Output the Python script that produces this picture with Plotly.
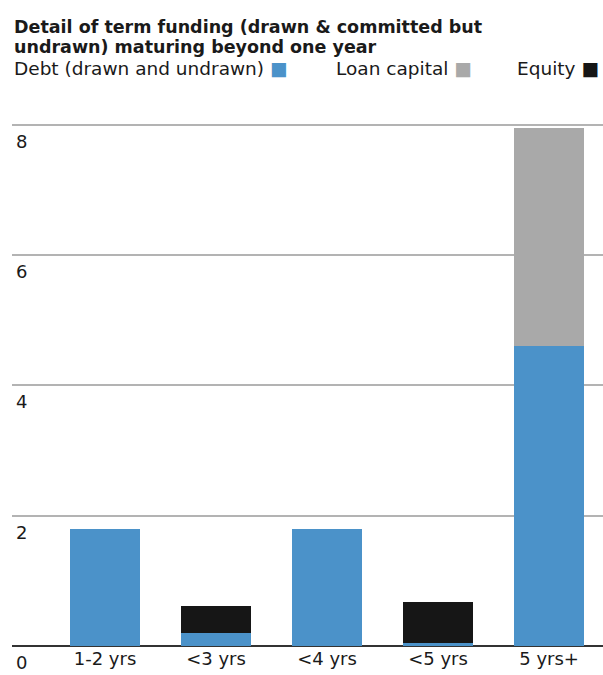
import plotly.graph_objects as go

categories = ["1-2 yrs", "<3 yrs", "<4 yrs", "<5 yrs", "5 yrs+"]
debt = [1.8, 0.2, 1.8, 0.05, 4.6]
loan_capital = [0, 0, 0, 0, 3.35]
equity = [0, 0.42, 0, 0.63, 0]
y_ticks = [0, 2, 4, 6, 8]

BLUE = "#4b92c9"
GREY = "#a9a9a9"
BLACK = "#161616"
TEXT = "#1a1a1a"
FONT = "DejaVu Sans, Liberation Sans, Arial, sans-serif"

x = list(range(len(categories)))

fig = go.Figure()
fig.add_trace(go.Bar(x=x, y=debt, marker_color=BLUE, name="Debt (drawn and undrawn)", width=0.63, marker_line_width=0))
fig.add_trace(go.Bar(x=x, y=loan_capital, marker_color=GREY, name="Loan capital", width=0.63, marker_line_width=0))
fig.add_trace(go.Bar(x=x, y=equity, marker_color=BLACK, name="Equity", width=0.63, marker_line_width=0))

annotations = []
for v in y_ticks:
    annotations.append(dict(x=0.004, xref="paper", y=v, yref="y", text=str(v), showarrow=False,
                            xanchor="left", yanchor="top", yshift=-4,
                            font=dict(family=FONT, size=18, color=TEXT)))

title_lines = ["Detail of term funding (drawn &amp; committed but",
               "undrawn) maturing beyond one year"]
for i, line in enumerate(title_lines):
    annotations.append(dict(x=0, xref="paper", y=1, yref="paper", yshift=96 - 20 * i,
                            text=f"<b>{line}</b>", showarrow=False, xanchor="left", yanchor="middle",
                            font=dict(family=FONT, size=17.5, color=TEXT)))

legend_items = [
    ("Debt (drawn and undrawn)", BLUE, 0.0, "left"),
    ("Loan capital", GREY, 0.545, "left"),
    ("Equity", BLACK, 0.997, "right"),
]
for label, col, xp, anc in legend_items:
    annotations.append(dict(x=xp, xref="paper", y=1, yref="paper", yshift=55, xanchor=anc, yanchor="middle",
                            text=f"{label} <span style='color:{col}'>■</span>",
                            showarrow=False, font=dict(family=FONT, size=18.5, color=TEXT)))

fig.update_layout(
    barmode="stack",
    width=603, height=675,
    margin=dict(l=12, r=0, t=123, b=29),
    paper_bgcolor="white", plot_bgcolor="white",
    showlegend=False,
    font=dict(family=FONT, size=18, color=TEXT),
    xaxis=dict(range=[-0.838, 4.486], tickmode="array", tickvals=x, ticktext=categories,
               showgrid=False, zeroline=False, showline=False, ticks="",
               tickfont=dict(family=FONT, size=18, color=TEXT), fixedrange=True),
    yaxis=dict(range=[0, 8.03], tickvals=y_ticks, showticklabels=False, showgrid=True,
               gridcolor="#b3b3b3", gridwidth=2, zeroline=True, zerolinecolor="#333333",
               zerolinewidth=2, showline=False, fixedrange=True),
    annotations=annotations,
)

fig.write_html("out.html")
